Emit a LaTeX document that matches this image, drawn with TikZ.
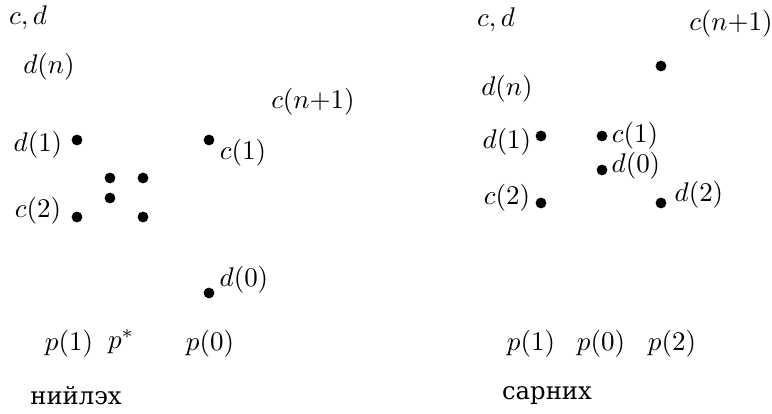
\documentclass[tikz,border=0pt]{standalone}
\usepackage[no-math]{fontspec}
\newfontfamily\cyrfont{DejaVu Serif}

\begin{document}
\begin{tikzpicture}[x=0.3704pt,y=-0.3704pt,
  pnt/.style={circle,fill=black,inner sep=0pt,minimum size=4pt},
  lbl/.style={inner sep=0pt},
  ttl/.style={inner sep=0pt,font=\cyrfont\fontsize{9}{11}\selectfont}]
  \useasboundingbox (0,0) rectangle (772,413);
  % left: нийлэх
  \node[lbl] (cdL) at (28,18) {$c,d$};
  \node[lbl] (dnL) at (49,67) {$d(n)$};
  \node[lbl] (cnL) at (313,102) {$c(n{+}1)$};
  \node[pnt] (d1L) at (77,140) {};
  \node[lbl] (d1Ltxt) at (38,145) {$d(1)$};
  \node[pnt] (c1L) at (209,140) {};
  \node[lbl] (c1Ltxt) at (243,153) {$c(1)$};
  \node[pnt] (s1) at (110,178) {};
  \node[pnt] (s2) at (143,178) {};
  \node[pnt] (s3) at (110,198) {};
  \node[pnt] (c2L) at (77,217) {};
  \node[lbl] (c2Ltxt) at (38,211) {$c(2)$};
  \node[pnt] (s4) at (143,217) {};
  \node[pnt] (d0L) at (209,293) {};
  \node[lbl] (d0Ltxt) at (244,280) {$d(0)$};
  \node[lbl] (p1L) at (69,344) {$p(1)$};
  \node[lbl] (pst) at (121,342) {$p^*$};
  \node[lbl] (p0L) at (210,344) {$p(0)$};
  \node[ttl] (ttlL) at (76,396) {нийлэх};
  % right: сарних
  \node[lbl] (cdR) at (496,20) {$c,d$};
  \node[lbl] (cnR) at (731,24) {$c(n{+}1)$};
  \node[pnt] (cnRdot) at (661,66) {};
  \node[lbl] (dnR) at (507,89) {$d(n)$};
  \node[pnt] (d1R) at (541,136) {};
  \node[lbl] (d1Rtxt) at (507,142) {$d(1)$};
  \node[pnt] (c1R) at (602,136) {};
  \node[lbl] (c1Rtxt) at (635,136) {$c(1)$};
  \node[pnt] (d0R) at (602,170) {};
  \node[lbl] (d0Rtxt) at (636,166) {$d(0)$};
  \node[pnt] (c2R) at (541,203) {};
  \node[lbl] (c2Rtxt) at (507,198) {$c(2)$};
  \node[pnt] (d2R) at (661,203) {};
  \node[lbl] (d2Rtxt) at (699,195) {$d(2)$};
  \node[lbl] (p1R) at (531,344) {$p(1)$};
  \node[lbl] (p0R) at (601,344) {$p(0)$};
  \node[lbl] (p2R) at (672,344) {$p(2)$};
  \node[ttl] (ttlR) at (547,396) {сарних};
\end{tikzpicture}
\end{document}
